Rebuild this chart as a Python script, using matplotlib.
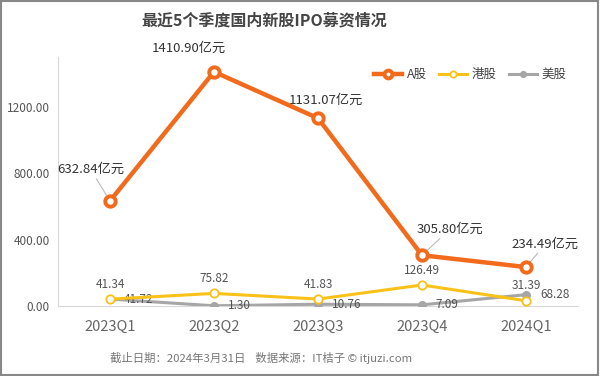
import matplotlib
matplotlib.use("Agg")
import matplotlib.pyplot as plt
from matplotlib.patches import Rectangle

plt.rcParams['font.family'] = ['Noto Sans CJK SC', 'DejaVu Sans']

quarters = ['2023Q1', '2023Q2', '2023Q3', '2023Q4', '2024Q1']
a_share = [632.84, 1410.90, 1131.07, 305.80, 234.49]
hk_share = [41.34, 75.82, 41.83, 126.49, 31.39]
us_share = [41.72, 1.30, 10.76, 7.09, 68.28]
y_ticks = [0, 400, 800, 1200]

c_a = '#F26A1B'
c_hk = '#F9C21A'
c_us = '#A6A6A6'
txt = '#555555'

fig = plt.figure(figsize=(6, 3.76), dpi=100)
ax = fig.add_axes([58/600, 1 - 306/376, 520/600, 249/376])

x = list(range(len(quarters)))
ax.plot(x, us_share, color=c_us, lw=2.2, marker='o', ms=5.5, mfc=c_us, mec=c_us, label='美股', zorder=3)
ax.plot(x, hk_share, color=c_hk, lw=2.2, marker='o', ms=6, mfc='white', mec=c_hk, mew=1.3, label='港股', zorder=4)
ax.plot(x, a_share, color=c_a, lw=3.2, marker='o', ms=7.5, mfc='white', mec=c_a, mew=2.8, label='A股', zorder=5)

ax.set_xlim(-0.5, 4.5)
ax.set_ylim(0, 1500)
ax.set_xticks(x)
ax.set_xticklabels(quarters, fontsize=10.5, color='#666666')
ax.set_yticks(y_ticks)
ax.set_yticklabels([f'{v:.2f}' for v in y_ticks], fontsize=8.5, color=txt)
ax.tick_params(length=0, pad=6)
ax.tick_params(axis='x', pad=10)
for s in ['top', 'right']:
    ax.spines[s].set_visible(False)
ax.spines['left'].set_color('#D9D9D9')
ax.spines['bottom'].set_color('#D9D9D9')

# A股 labels, leader lines on some (offsets in points)
a_offsets = [(-14, 18), (-18, 12), (6, 8), (20, 14), (14, 12)]
a_leader = [True, False, False, True, True]
for i, v in enumerate(a_share):
    dx, dy = a_offsets[i]
    props = dict(arrowstyle='-', color='#BBBBBB', lw=0.8, shrinkA=0, shrinkB=5) if a_leader[i] else None
    ax.annotate(f'{v:.2f}亿元', (i, v), xytext=(dx, dy), textcoords='offset points',
                ha='center', va='bottom', fontsize=9.5, color='#333333', arrowprops=props)

for i, v in enumerate(hk_share):
    ax.annotate(f'{v:.2f}', (i, v), xytext=(0, 6), textcoords='offset points',
                ha='center', va='bottom', fontsize=8.5, color=txt)
for i, v in enumerate(us_share):
    ax.annotate(f'{v:.2f}', (i, v), xytext=(10, 0), textcoords='offset points',
                ha='left', va='center', fontsize=8.5, color=txt)

handles, labels = ax.get_legend_handles_labels()
order = [2, 1, 0]
ax.legend([handles[k] for k in order], [labels[k] for k in order], loc='upper right',
          bbox_to_anchor=(1.0, 1.0), ncol=3, frameon=False, fontsize=9,
          handlelength=2.2, columnspacing=1.0, handletextpad=0.4, labelcolor='#444444',
          markerscale=0.75)

fig.text(0.44, 1 - 20/376, '最近5个季度国内新股IPO募资情况', ha='center', va='center',
         fontsize=11.5, fontweight='bold', color='#444444')
fig.text(0.435, 1 - 358/376, '截止日期：2024年3月31日    数据来源：IT桔子 © itjuzi.com',
         ha='center', va='center', fontsize=8.2, color='#777777')

fig.patches.append(Rectangle((0.002, 0.003), 0.995, 0.994, transform=fig.transFigure,
                             fill=False, edgecolor='#888888', lw=1.5))

fig.savefig('out.png', dpi=100)
